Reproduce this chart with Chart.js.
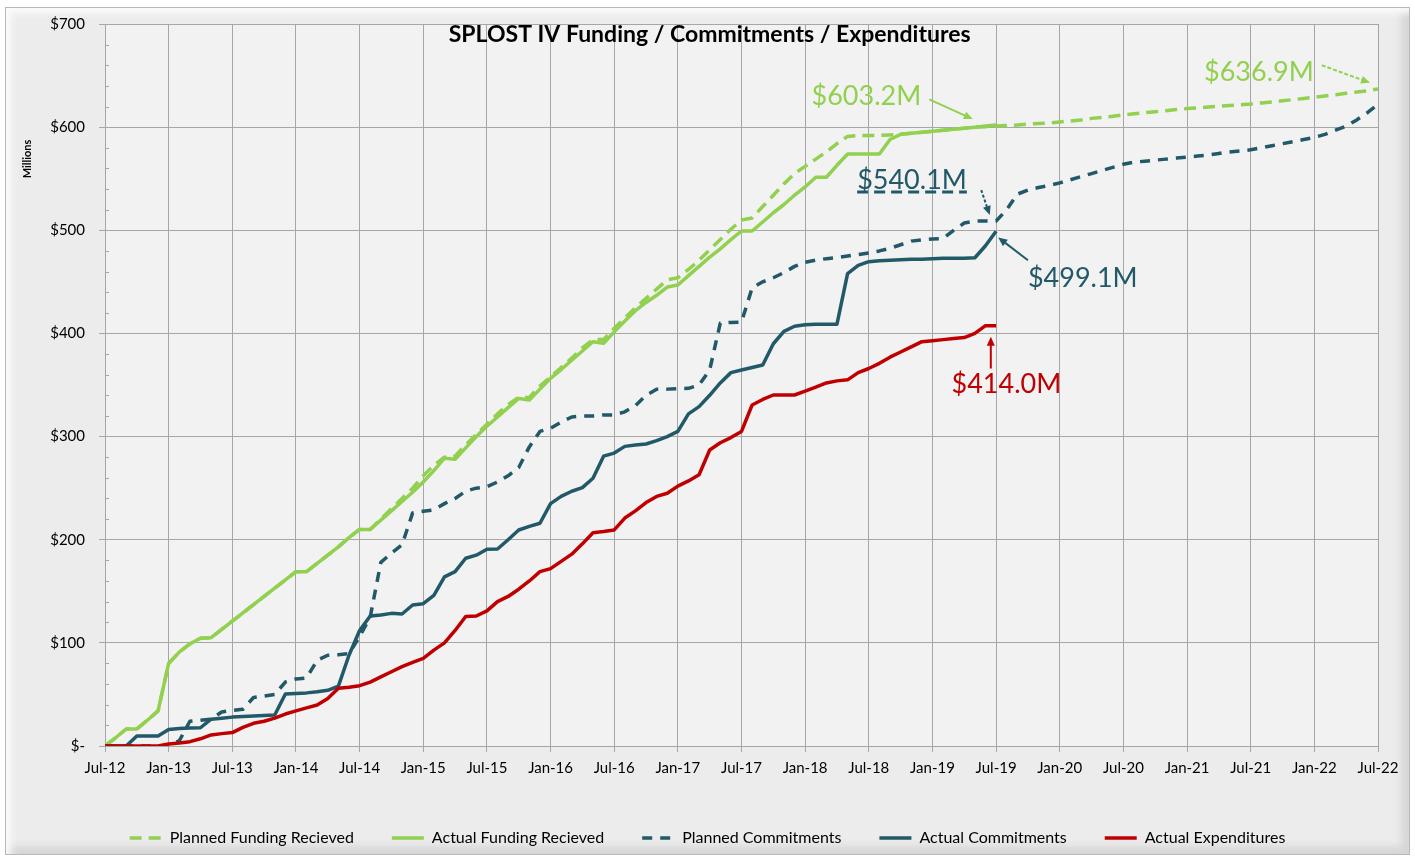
<!DOCTYPE html>
<html>
<head>
<meta charset="utf-8">
<title>SPLOST IV Funding / Commitments / Expenditures</title>
<script src="https://cdn.jsdelivr.net/npm/chart.js@4.4.0/dist/chart.umd.min.js"></script>
<style>
  html, body { margin: 0; padding: 0; background: #fff; }
  #wrap { position: relative; width: 1415px; height: 856px; overflow: hidden; }
  #frame {
    position: absolute; left: 5px; top: 7px; width: 1403px; height: 846px;
    background: #ececec; border: 1px solid #b8b8b8;
    box-shadow: inset 5px 5px 7px #fbfbfb, inset -7px -7px 9px #d4d4d4;
  }
  #chart { position: absolute; left: 0; top: 0; }
</style>
</head>
<body>
<div id="wrap">
  <div id="frame"></div>
  <canvas id="chart" width="1415" height="856"></canvas>
</div>
<script>
// tick labels
const xTickLabels = ['Jul-12', 'Jan-13', 'Jul-13', 'Jan-14', 'Jul-14', 'Jan-15', 'Jul-15', 'Jan-16', 'Jul-16', 'Jan-17',
  'Jul-17', 'Jan-18', 'Jul-18', 'Jan-19', 'Jul-19', 'Jan-20', 'Jul-20', 'Jan-21', 'Jul-21', 'Jan-22', 'Jul-22'];
const yTickLabels = ['$-', '$100', '$200', '$300', '$400', '$500', '$600', '$700'];

const chartTitle = 'SPLOST IV Funding / Commitments / Expenditures';
const seriesNames = ['Planned Funding Recieved', 'Actual Funding Recieved', 'Planned Commitments', 'Actual Commitments', 'Actual Expenditures'];

// monthly values in $ millions, starting Jul-12
const plannedFunding = [
  0, 8, 16.5, 16.5, 25, 34, 80, 91, 99, 104.5, 105, 113, 121, 129, 137, 145, 153, 161, 169, 169,
  177, 185, 193, 202, 210, 210, 220, 230, 240, 250, 262, 272, 280, 281, 292, 302, 312, 322, 331, 338,
  338, 349, 358, 367, 376, 386, 394, 394, 405, 415, 425, 434, 443, 452, 454, 462, 471, 481, 491, 501,
  510, 512, 523, 534, 545, 555, 562, 569, 576, 584, 591, 592, 592, 592, 592.5, 593, 594, 595, 596, 597,
  598, 599, 600, 600.5, 601, 601.5, 602, 603, 603.5, 604, 605, 606, 607, 608.5, 609.5, 610.5, 611.8, 613, 614, 615,
  616, 617, 618, 618.7, 619.5, 620.2, 621, 621.7, 622.4, 623.5, 624.5, 625.6, 626.7, 627.8, 628.9, 630.2, 631.5, 632.8, 634, 635.3,
  636.9
];
const actualFunding = [
  0, 8, 16.5, 16.5, 25, 34, 80, 91, 99, 104.5, 105, 113, 121, 129, 137, 145, 153, 161, 169, 169,
  177, 185, 193, 202, 210, 210, 219, 228, 237, 246, 256, 267, 279, 278, 289, 300, 310, 319, 328, 337,
  335.5, 346, 356.5, 365, 374, 383, 392, 390.5, 401.5, 412, 422, 430, 437, 445, 447, 456, 465, 474, 482, 491,
  499.3, 499.3, 508, 517, 525, 534, 542, 551.4, 551.4, 563, 574, 574, 574, 574, 588, 593, 594, 595, 596, 597,
  598, 599, 600, 601, 602
];
const plannedCommitments = [
  0, 0, 0, 0, 0, 0, 1, 5, 24, 25, 26, 33, 34.5, 35.6, 47, 48.5, 50, 62, 65, 66,
  83, 88, 88.5, 89.5, 106, 125, 178, 187, 195, 226, 227.5, 229, 235, 240, 247, 250, 251.4, 256, 262, 270,
  290, 305, 308, 314, 319, 320, 320, 321, 321, 324, 330, 340, 345.8, 346, 346.5, 346.8, 350, 364.6, 410, 410.7,
  411, 444, 450, 454, 459, 465, 469, 471, 472.5, 473.5, 475, 476.5, 478, 480, 482.5, 486, 489.5, 490.8, 491.5, 492,
  500, 507, 509, 509, 509, 520, 535, 539, 541.5, 543.5, 546, 549, 552, 555, 558, 561, 564, 566, 567, 568,
  569, 570, 571, 572, 573, 574.5, 576, 577, 578, 580, 582, 584, 586, 588, 590, 593, 597, 601, 607, 614,
  622
];
const actualCommitments = [
  0, 0, 0, 9.7, 9.7, 9.7, 16, 17, 17.5, 17.7, 26, 27, 28, 28.5, 29, 29.5, 30, 50.4, 51, 51.5,
  52.5, 54, 58, 88, 112, 126, 127, 128.6, 128, 136.7, 138, 146, 164, 169, 182, 185, 190.7, 191, 200, 209.4,
  213, 216, 235, 242, 247, 250.5, 259.6, 281, 284, 290.5, 291.8, 292.8, 296, 300, 305, 322, 329, 340, 352, 362,
  364.6, 367, 369.4, 390, 402, 407, 408.5, 409, 409, 409, 458, 466, 469.6, 470.5, 471, 471.5, 472, 472, 472.5, 472.9,
  473, 473, 473.4, 485, 499.1
];
const actualExpenditures = [
  0, 0, 0, 0, 0, 0, 2, 3, 4.2, 7, 10.7, 12, 13, 18, 22, 24, 27, 31, 34, 37,
  39.7, 46, 56, 57, 58.5, 62, 67, 72, 77, 81, 85, 93, 100, 112, 125.5, 126, 131, 140, 145, 152,
  160, 169, 172, 179, 186, 196, 206.8, 208, 209.5, 221, 228, 236, 242, 245, 252, 257, 263, 287, 294, 299,
  305, 330.6, 336, 340.3, 340.3, 340.3, 344, 348, 352, 354, 355, 362, 366, 371, 377, 382, 387, 392, 393, 394,
  395, 396, 400, 407.5, 407.5
];

// callout labels: [month, $M] anchors
const callouts = [
  { text: '$603.2M', color: '#92d050', at: [66.6, 629.7], arrow: [77.7, 627, 81.8, 607.8], arrowDash: [] },
  { text: '$636.9M', color: '#92d050', at: [103.6, 653.5], arrow: [114.7, 660, 119.25, 643], arrowDash: [4, 2] },
  { text: '$540.1M', color: '#215968', at: [70.9, 548.8], arrow: [82.6, 539, 83.4, 514.8], arrowDash: [3, 2], underline: true },
  { text: '$499.1M', color: '#215968', at: [87.0, 453.8], arrow: [87.0, 471, 84.2, 493], arrowDash: [] },
  { text: '$414.0M', color: '#c00000', at: [79.8, 351], arrow: [83.5, 366, 83.5, 396.8], arrowDash: [] }
];

const GREEN = '#92d050';
const TEAL = '#215968';
const RED = '#c00000';
const GRID = '#a6a6a6';
const FONT = 'Lato, "Open Sans", sans-serif';

function toPoints(arr) {
  return arr.map((v, i) => ({ x: i, y: v }));
}

function drawArrow(ctx, x1, y1, x2, y2, color, dash) {
  const ang = Math.atan2(y2 - y1, x2 - x1);
  const head = 9;
  ctx.save();
  ctx.strokeStyle = color;
  ctx.fillStyle = color;
  ctx.lineWidth = 2;
  ctx.setLineDash(dash);
  ctx.beginPath();
  ctx.moveTo(x1, y1);
  ctx.lineTo(x2 - Math.cos(ang) * head * 0.8, y2 - Math.sin(ang) * head * 0.8);
  ctx.stroke();
  ctx.setLineDash([]);
  ctx.beginPath();
  ctx.moveTo(x2, y2);
  ctx.lineTo(x2 - head * Math.cos(ang) + 4 * Math.sin(ang), y2 - head * Math.sin(ang) - 4 * Math.cos(ang));
  ctx.lineTo(x2 - head * Math.cos(ang) - 4 * Math.sin(ang), y2 - head * Math.sin(ang) + 4 * Math.cos(ang));
  ctx.closePath();
  ctx.fill();
  ctx.restore();
}

const chartDecor = {
  id: 'chartDecor',
  beforeDraw(chart) {
    const { ctx, chartArea: a } = chart;
    ctx.save();
    ctx.fillStyle = '#f2f2f2';
    ctx.fillRect(a.left, a.top, a.right - a.left, a.bottom - a.top);
    ctx.restore();
  },
  afterDraw(chart) {
    const { ctx, chartArea: a, scales: { x, y } } = chart;
    ctx.save();

    // small inside ticks between the $100 lines
    ctx.strokeStyle = GRID;
    ctx.lineWidth = 1;
    y.ticks.forEach(t => {
      if (t.value % 100 !== 0) {
        const py = Math.round(y.getPixelForValue(t.value)) + 0.5;
        ctx.beginPath();
        ctx.moveTo(a.left, py);
        ctx.lineTo(a.left + 4, py);
        ctx.stroke();
      }
    });

    // title sits inside the plot
    ctx.fillStyle = '#000';
    ctx.font = 'bold 23px ' + FONT;
    ctx.textAlign = 'center';
    ctx.textBaseline = 'middle';
    ctx.fillText(chartTitle, x.getPixelForValue(57.0), a.top + 11);

    // axis unit
    ctx.save();
    ctx.translate(27, 159);
    ctx.rotate(-Math.PI / 2);
    ctx.font = 'bold 11px ' + FONT;
    ctx.fillText('Millions', 0, 0);
    ctx.restore();

    // callouts
    callouts.forEach(c => {
      const tx = x.getPixelForValue(c.at[0]);
      const ty = y.getPixelForValue(c.at[1]);
      ctx.font = '27px ' + FONT;
      ctx.textAlign = 'left';
      ctx.textBaseline = 'middle';
      ctx.fillStyle = c.color;
      ctx.fillText(c.text, tx, ty);
      if (c.underline) {
        const w = ctx.measureText(c.text).width;
        ctx.save();
        ctx.strokeStyle = c.color;
        ctx.lineWidth = 3;
        ctx.setLineDash([11, 6]);
        ctx.beginPath();
        ctx.moveTo(tx, ty + 12);
        ctx.lineTo(tx + w, ty + 12);
        ctx.stroke();
        ctx.restore();
      }
      drawArrow(ctx,
        x.getPixelForValue(c.arrow[0]), y.getPixelForValue(c.arrow[1]),
        x.getPixelForValue(c.arrow[2]), y.getPixelForValue(c.arrow[3]),
        c.color, c.arrowDash);
    });
    ctx.restore();
  }
};

Chart.defaults.font.family = FONT;
Chart.defaults.color = '#000';

const ctx = document.getElementById('chart').getContext('2d');

const lineStyle = {
  pointRadius: 0,
  pointHoverRadius: 0,
  fill: false,
  tension: 0,
  borderWidth: 3.5,
  borderJoinStyle: 'round'
};

const spendChart = new Chart(ctx, {
  type: 'line',
  data: {
    datasets: [
      { ...lineStyle, label: seriesNames[0], data: toPoints(plannedFunding), borderColor: GREEN, backgroundColor: GREEN, borderDash: [12, 7], order: 5 },
      { ...lineStyle, label: seriesNames[1], data: toPoints(actualFunding), borderColor: GREEN, backgroundColor: GREEN, order: 4 },
      { ...lineStyle, label: seriesNames[2], data: toPoints(plannedCommitments), borderColor: TEAL, backgroundColor: TEAL, borderDash: [10, 8], order: 3 },
      { ...lineStyle, label: seriesNames[3], data: toPoints(actualCommitments), borderColor: TEAL, backgroundColor: TEAL, order: 2 },
      { ...lineStyle, label: seriesNames[4], data: toPoints(actualExpenditures), borderColor: RED, backgroundColor: RED, order: 1 }
    ]
  },
  options: {
    responsive: false,
    animation: false,
    events: [],
    layout: { padding: { top: 24, right: 0, left: 0, bottom: 0 } },
    plugins: {
      title: { display: false },
      tooltip: { enabled: false },
      legend: {
        position: 'bottom',
        labels: {
          usePointStyle: true,
          pointStyle: 'line',
          pointStyleWidth: 32,
          padding: 38,
          color: '#000',
          font: { size: 16 },
          sort: (a, b) => a.datasetIndex - b.datasetIndex,
          // line samples take the dataset's own dash and width
          generateLabels: chart => Chart.defaults.plugins.legend.labels.generateLabels(chart).map(item => {
            const ds = chart.data.datasets[item.datasetIndex];
            item.lineDash = ds.borderDash || [];
            item.lineWidth = ds.borderWidth;
            item.strokeStyle = ds.borderColor;
            return item;
          })
        }
      }
    },
    scales: {
      x: {
        type: 'linear',
        min: 0,
        max: 120,
        afterFit: s => { s.height = 46; },
        ticks: {
          stepSize: 6,
          autoSkip: false,
          maxRotation: 0,
          padding: 7,
          font: { size: 15 },
          callback: v => xTickLabels[v / 6]
        },
        grid: { color: GRID, tickColor: GRID, tickLength: 6, lineWidth: 1 },
        border: { color: GRID }
      },
      y: {
        min: 0,
        max: 700,
        afterFit: s => { s.width = 105; },
        ticks: {
          stepSize: 20,
          autoSkip: false,
          padding: 14,
          font: { size: 15 },
          callback: v => (v % 100 === 0 ? yTickLabels[v / 100] : '')
        },
        grid: {
          color: c => (c.tick && c.tick.value % 100 === 0 ? GRID : 'rgba(0,0,0,0)'),
          tickColor: c => (c.tick && c.tick.value % 100 === 0 ? GRID : 'rgba(0,0,0,0)'),
          tickLength: 6,
          lineWidth: 1
        },
        border: { color: GRID }
      },
      // empty right-hand spacer so the legend centres on the whole canvas
      spacer: {
        position: 'right',
        afterFit: s => { s.width = 37; },
        ticks: { display: false },
        grid: { display: false },
        border: { display: false }
      }
    }
  },
  plugins: [chartDecor]
});
</script>
</body>
</html>
